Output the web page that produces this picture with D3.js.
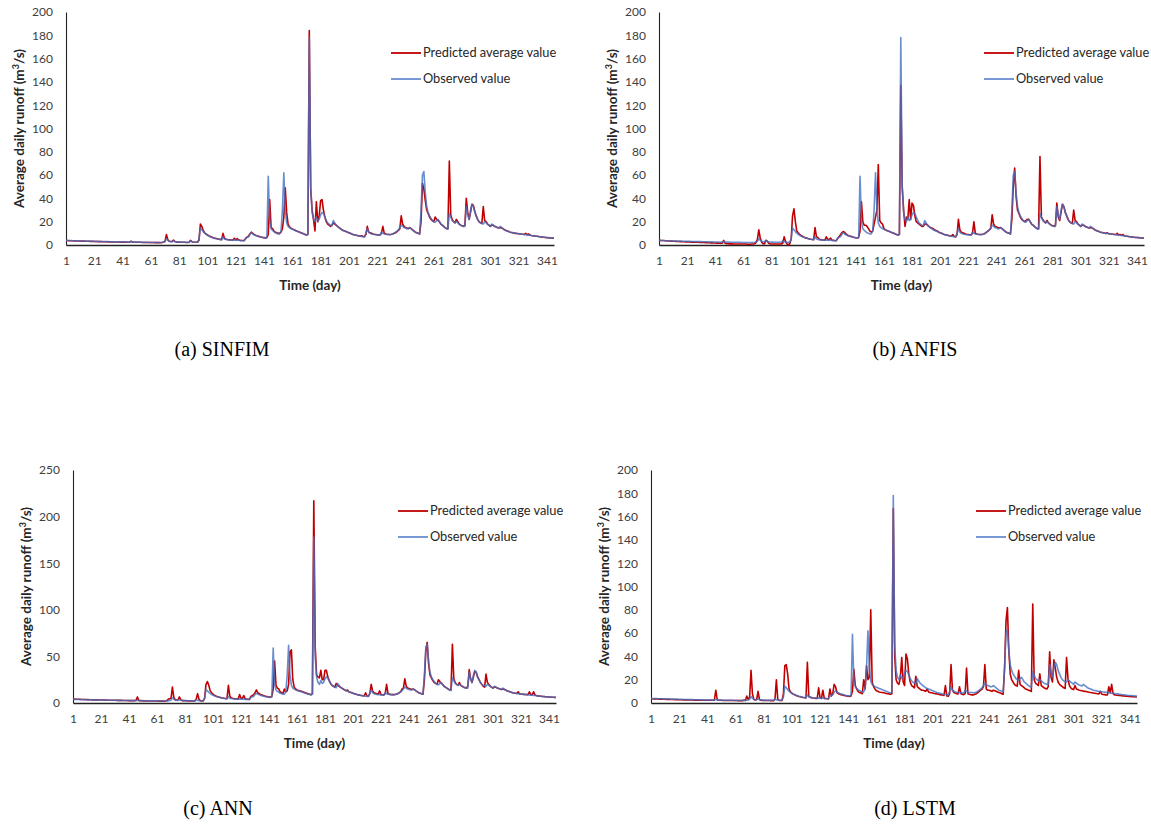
<!DOCTYPE html>
<html>
<head>
<meta charset="utf-8">
<script src="https://cdn.jsdelivr.net/npm/d3@7"></script>
<style>
  body { margin: 0; background: #fff; }
  svg text { font-family: Lato, "Open Sans", sans-serif; }
  .tick text { font-size: 12px; fill: #404040; }
  .axis-title { font-size: 13.5px; font-weight: bold; fill: #262626; }
  .legend text { font-size: 12.8px; fill: #262626; }
  .caption { font-family: "Liberation Serif", "Times New Roman", serif !important; font-size: 20px; fill: #000; }
</style>
</head>
<body>
<div id="content"></div>
<script>
// observed daily runoff (same in every panel), day 1..346
var observed = [
  4.0,3.9,3.9,3.8,3.8,3.7,3.7,3.6,3.6,3.5,
  3.5,3.4,3.4,3.4,3.3,3.3,3.3,3.2,3.2,3.2,
  3.1,3.1,3.1,3.0,3.0,3.0,3.0,2.9,2.9,2.9,
  2.9,2.8,2.8,2.8,2.8,2.7,2.7,2.7,2.7,2.6,
  2.6,2.6,2.6,2.6,2.5,2.6,3.0,2.6,2.5,2.5,
  2.5,2.4,2.4,2.4,2.4,2.3,2.3,2.3,2.3,2.2,
  2.2,2.2,2.2,2.2,2.2,2.1,2.1,2.1,2.3,2.6,
  3.2,5.5,4.0,3.2,2.9,2.8,3.6,3.0,2.7,2.6,
  2.5,2.5,2.4,2.4,2.4,2.3,2.3,2.3,3.5,2.8,
  2.5,2.4,2.4,2.4,5.0,14.5,13.0,11.5,10.2,9.2,
  8.4,7.7,7.1,6.6,6.2,5.8,5.5,5.2,4.9,4.7,
  4.5,7.0,5.2,4.8,4.6,4.4,4.3,4.2,4.1,4.4,
  4.1,4.0,4.3,3.9,3.8,3.7,3.7,6.0,6.5,7.0,
  9.0,10.5,9.5,8.8,8.2,7.8,7.4,7.0,6.7,6.4,
  6.2,6.0,6.5,59,20,14,12.5,11.5,10.5,10,
  9.5,9.5,12,30,62,30,19,16,15,14,
  13.5,13,12.5,12,11.5,11,10.5,10,9.5,9,
  8.5,9.5,178,50,28,22,20,24,21,22,
  26,28,27,24,21,19,18,17,16.5,21,
  19,17,16,15,14,13,12.5,12,11.5,11,
  10.5,10,9.5,9,8.7,8.4,8.1,7.8,7.5,7.3,
  7.1,7.0,10,14,11,10,9.5,9.2,9,8.8,
  8.7,8.5,8.5,11,10,9.5,9.2,9,9,8.8,
  9,9.5,10,11,12,13,15,17,16,15,
  14.5,14,14,15,14,13,12,11,10.5,10,
  9.5,30,60,63,45,33,28,25,23,21,
  20,19.5,21,22,20,18,17,16,15,14,
  13.5,27,24,21,20,19,20,19,18,17,
  16.5,16,16,33,26,22,30,35,33,28,
  25,22,20,19,18.5,18,20,19,18,17,
  16,18,17,16,15.5,15,14.5,16,15,14,
  13,12.5,12,11.5,11,10.8,10.5,10.2,10,9.8,
  9.6,9.4,9.3,9.2,9,8.8,8.5,8.6,8.4,8.2,
  8,7.8,7.6,7.5,7.3,7.1,7,6.8,6.7,6.5,
  6.4,6.3,6.2,6.1,6,5.9
];

var predSINFIM = [
  3.8,3.8,3.7,3.7,3.6,3.6,3.5,3.5,3.4,3.4,
  3.4,3.3,3.3,3.3,3.2,3.2,3.2,3.1,3.1,3.1,
  3.0,3.0,3.0,2.9,2.9,2.9,2.8,2.8,2.8,2.8,
  2.7,2.7,2.7,2.7,2.6,2.6,2.6,2.6,2.5,2.5,
  2.5,2.5,2.5,2.4,2.4,2.4,3.2,2.5,2.4,2.4,
  2.3,2.3,2.3,2.3,2.2,2.2,2.2,2.2,2.1,2.1,
  2.1,2.1,2.1,2.0,2.0,2.0,2.0,2.0,2.2,2.5,
  3.0,9.0,4.5,3.2,3.0,3.0,4.2,3.0,2.6,2.5,
  2.4,2.4,2.3,2.3,2.3,2.2,2.2,2.3,4.0,2.9,
  2.4,2.3,2.3,2.3,4.0,18,16,12.5,10.5,9.5,
  8.6,7.9,7.3,6.8,6.3,5.9,5.6,5.3,5.0,4.8,
  4.6,10,5.8,5.0,4.7,4.5,4.4,4.3,4.2,5.8,
  4.3,5.5,4.4,4.0,3.9,3.8,3.8,5.5,6.8,7.5,
  9.5,11,10,9.0,8.4,7.9,7.5,7.1,6.8,6.5,
  6.3,6.1,6.3,9,39,15,14,12,11,10.5,
  10,10,11,14,24,49,28,18,15.5,14.5,
  13.8,13.2,12.6,12,11.6,11.1,10.6,10.1,9.6,9.1,
  8.6,9,184,48,30,22,12,37,20,25,
  38,39,30,24,20,18,17,16,17,19,
  18,17,16,15,14,13,12.5,12,11.5,11,
  10.5,10,9.5,9,8.7,8.4,8.1,7.8,7.5,8,
  7.3,7.2,9,16,11,10.5,10,9.5,9.2,9,
  8.8,8.6,8.6,10,16,10,9.5,9.2,9,9,
  9.2,9.5,10,10.5,11.5,12.5,14,25,18,16,
  15,14.5,14,15,14,13,12,11,10.5,10,
  9.5,20,53,48,38,30,27,24,22,21,
  20,24,22,21,20,18,17,16,15,14,
  14,72,26,22,20,19,22,20,18,17,
  16.5,16,17,40,28,22,28,35,34,29,
  25,22,20,19,18.5,33,21,20,18,17,
  16,17,17,16,15.5,15,14.5,15,14.5,14,
  13,12.5,12,11.5,11,10.8,10.5,10.2,10,9.8,
  9.6,9.4,9.2,9.2,9,10,9,9.5,8.5,8.2,
  8,7.8,7.6,7.5,7.3,7.1,7,6.8,6.7,6.5,
  6.3,6.2,6.1,6,5.9,5.8
];

var predANFIS = [
  4.2,4.0,3.9,3.8,3.7,3.6,3.5,3.4,3.4,3.3,
  3.2,3.2,3.1,3.0,3.0,2.9,2.9,2.8,2.8,2.7,
  2.7,2.6,2.6,2.5,2.5,2.4,2.4,2.3,2.3,2.2,
  2.2,2.1,2.1,2.0,2.0,1.9,1.9,1.8,1.8,1.7,
  1.7,1.6,1.6,1.5,1.5,1.6,4.0,1.5,1.2,1.1,
  1.0,1.0,1.0,0.9,0.9,0.9,0.9,0.8,0.8,0.8,
  0.8,0.8,0.8,0.7,0.7,0.7,0.8,0.8,1.0,2.0,
  5.0,13,6,2.5,1.2,1.0,4.0,3.5,1.5,1.0,
  0.9,0.9,0.8,0.8,0.8,0.8,0.8,0.9,1.5,7.0,
  3.0,1.0,0.2,1.0,5,25,31,20,12,10.5,
  9.2,8.2,7.5,6.8,6.3,5.9,5.5,5.2,4.9,4.7,
  4.5,15,7,6.5,5.0,4.6,4.4,4.3,4.2,7,
  5,4.5,6,4.2,4.0,3.8,3.7,5.5,7.0,8.5,
  10.5,11.5,11,9.5,8.5,8.0,7.6,7.2,6.8,6.5,
  6.2,6.0,6.5,12,37,20,17,17,16,14,
  12,11,12,18,24,30,69,21,19,18,
  14,13,12.5,12,11.5,11,10.5,10,9.5,9,
  8.5,9,137,50,30,16,24,22,39,22,
  36,34,25,20,19,18,17,16,16,18,
  18,17,16,15,14.5,14,13,12.5,12,11,
  10.5,10,9.5,9,8.7,8.4,8.1,7.8,7.5,9,
  7.3,7.0,9,22,13,11,10.5,10,9.5,9.2,
  9,8.8,8.6,10,20,10,9.5,9.2,9,9,
  9.2,9.5,10,11,12,13,14,26,18,16,
  15.5,15,14.5,15,14,13,12,11,10.5,10,
  9.5,22,50,66,42,30,27,24,22,21,
  20,21,22,22,20,18,17,16,15,14,
  14,76,24,22,20,19,21,19,18,17,
  16.5,16,17,36,24,21,28,35,33,28,
  25,22,20,19,18.5,30,21,20,18,17,
  16,17,17,16,15.5,15,14.5,15,14.5,14,
  13,12.5,12,11.5,11,10.8,10.5,10.2,10,10.5,
  9.6,9.4,9.3,9.2,9,9,10,8.6,9,8.2,
  9,8,7.6,7.5,7.3,7.1,7,6.8,6.7,6.5,
  6.4,6.3,6.2,6.1,6,5.9
];

var predANN = [
  4.3,4.2,4.1,4.0,4.0,3.9,3.8,3.8,3.7,3.7,
  3.6,3.6,3.5,3.5,3.4,3.4,3.4,3.3,3.3,3.2,
  3.2,3.2,3.1,3.1,3.1,3.0,3.0,3.0,2.9,2.9,
  2.9,2.9,2.8,2.8,2.8,2.8,2.7,2.7,2.7,2.7,
  2.6,2.6,2.6,2.6,2.6,2.8,6.5,2.8,2.5,2.4,
  2.3,2.3,2.3,2.2,2.2,2.2,2.2,2.1,2.1,2.1,
  2.1,2.0,2.0,2.0,2.0,2.0,2.2,2.5,4.0,4.5,
  5,17,6,3.5,3.0,3.5,6.5,3.5,2.6,2.5,
  2.4,2.4,2.3,2.3,2.3,2.2,2.2,2.3,4,10,
  4,2.5,2.3,2.3,5,20,23,19,13,11,
  9.5,8.4,7.6,7.0,6.5,6.1,5.7,5.4,5.1,4.9,
  4.7,19,7.5,5.5,5.0,4.7,4.5,4.4,4.3,9,
  5,5,8,4.5,4.2,4.0,3.9,7,8,9,
  11,14,11,10,9,8.5,8,7.5,7,6.8,
  6.5,6.3,7,15,45,19,16,15,12,11,
  10.5,15,12,13,20,55,57,25,17,15,
  14,13.5,13,12.5,12,11.5,11,10.5,10,9.5,
  9,10,217,60,30,28,27,35,25,25,
  35,35,28,24,21,19,18,17,21,19,
  18,17,16,15,14,13.5,14,12,11.5,11,
  10.5,10,9.5,9,8.7,8.4,8.1,7.8,7.5,11,
  7.5,7.2,10,20,13,11,10.5,10,9.5,13,
  9,8.8,8.6,10,20,10,9.5,9.2,9,9,
  9.2,9.5,10,11,12,15,16,26,18,16,
  15.5,15,14.5,15,14,13,12,11,10.5,10,
  9.5,25,55,65,42,30,27,24,22,21,
  20,25,23,21,20,18,17,16,15,14,
  14,63,26,22,20,19,22,19,18,17,
  16.5,16,18,36,26,22,28,34,33,28,
  25,22,20,18,17,31,22,20,18,17,
  16,17,17,16,15.5,15,14.5,15,14.5,14,
  13,12.5,12,11.5,11,10.8,10.5,10.2,12,9.8,
  9.6,9.4,9.3,9.2,9,9,12,9,9,12,
  8.5,8,7.6,7.5,7.3,7.1,7,6.8,6.7,6.5,
  6.4,6.3,6.2,6.1,6,5.9
];

var predLSTM = [
  3.6,3.6,3.5,3.5,3.4,3.4,3.3,3.3,3.3,3.2,
  3.2,3.1,3.1,3.1,3.0,3.0,3.0,2.9,2.9,2.9,
  2.8,2.8,2.8,2.7,2.7,2.7,2.7,2.6,2.6,2.6,
  2.6,2.5,2.5,2.5,2.5,2.4,2.4,2.4,2.4,2.3,
  2.3,2.3,2.3,2.3,2.3,2.5,11,3,2.3,2.3,
  2.3,2.2,2.2,2.2,2.2,2.2,2.1,2.1,2.1,2.1,
  2.1,2.1,2.0,2.0,2.0,2.0,2.5,2.2,6,3,
  5,28,8,3,2.5,3,10,3,2.3,2.2,
  2.2,2.1,2.1,2.1,2.1,2.0,2.0,2.0,3,20,
  3,2.2,2.1,2.1,8,32,33,25,12,9.5,
  8.4,7.6,7,6.5,6,5.6,5.3,5,4.7,4.5,
  4.3,35,6,5,4.6,4.3,4.1,4,3.9,13,
  4.5,4,11,4,3.8,3.6,3.5,12,6,8,
  16,14,9,8,7.5,7,6.8,6.5,6.2,6,
  5.8,5.6,6,10,29,15,12,10,9,8.5,
  8,20,12,32,20,22,80,18,14,12,
  10.5,10,9.5,9.2,9,8.8,8.5,8.2,8,7.8,
  7.5,8,167,40,20,17,16,22,39,18,
  15,42,38,25,18,15,14,13,23,14,
  13,12,11,11,10.5,10,12,9.5,9,8.8,
  8.5,8.2,8,7.8,7.5,7.2,7,6.8,6.5,15,
  6,5.8,8,33,11,9,8.5,8,7.8,14,
  8,7.5,7.2,8,30,8,7.5,7.2,7,7,
  7.5,8,9,10,11,12,14,33,12,11,
  11,10.5,10,11,10.5,10,9.5,9,8.5,8,
  7.5,30,70,82,45,25,20,18,16,15,
  14.5,28,16,15,14,13,12,11.5,11,10.5,
  10,85,20,17,16,15,25,15,14,13,
  12.5,12,14,44,22,18,37,30,22,18,
  16,15,14,13,12.5,39,21,15,13,12,
  11.5,15,12,11.5,11,10.8,10.5,10.2,10,9.8,
  9.5,9.2,9,8.8,8.6,8.4,8.2,8,7.8,10,
  7.5,7.3,7.2,7,6.9,14,9,16,8,7,
  6.8,6.6,6.5,6.4,6.2,6.1,6,5.9,5.8,5.7,
  5.6,5.5,5.4,5.3,5.2,5.1
];

var xTickLabels = [1,21,41,61,81,101,121,141,161,181,201,221,241,261,281,301,321,341];
var captions = ["(a) SINFIM", "(b) ANFIS", "(c) ANN", "(d) LSTM"];
var yMax = [200, 200, 250, 200];
var yStep = [20, 20, 50, 20];
var seriesNames = ["Predicted average value", "Observed value"];

var predicted = [predSINFIM, predANFIS, predANN, predLSTM];

// panel positions on the page
var layout = [
  { x0: 66,  x1: 554,  top: 12,  bot: 245, legX: 391, legY: 53,  capX: 222, capY: 356 },
  { x0: 659, x1: 1144, top: 12,  bot: 245, legX: 984, legY: 53,  capX: 915, capY: 356 },
  { x0: 73,  x1: 556,  top: 470, bot: 703, legX: 398, legY: 511, capX: 218, capY: 815 },
  { x0: 651, x1: 1137, top: 470, bot: 703, legX: 976, legY: 511, capX: 915, capY: 815 }
];

var redColor = "#C00000";
var blueColor = "#4472C4";

var svg = d3.select("#content").append("svg")
  .attr("width", 1151)
  .attr("height", 832);

layout.forEach(function (L, i) {
  var n = observed.length;
  var x = d3.scaleLinear().domain([1, n]).range([L.x0, L.x1]);
  var y = d3.scaleLinear().domain([0, yMax[i]]).range([L.bot, L.top]);
  var g = svg.append("g");

  // x axis
  var xAxis = d3.axisBottom(x).tickValues(xTickLabels).tickFormat(d3.format("d"))
    .tickSize(0).tickSizeOuter(0).tickPadding(11);
  var gx = g.append("g").attr("transform", "translate(0," + L.bot + ")").call(xAxis);
  gx.select(".domain").attr("stroke", "#222").attr("stroke-width", 1.4);

  // y axis
  var yAxis = d3.axisLeft(y).tickValues(d3.range(0, yMax[i] + 1, yStep[i]))
    .tickSize(0).tickSizeOuter(0).tickPadding(13);
  var gy = g.append("g").attr("transform", "translate(" + L.x0 + ",0)").call(yAxis);
  gy.select(".domain").attr("stroke", "#222").attr("stroke-width", 1.1);
  g.selectAll(".tick text").attr("font-family", null);

  var line = d3.line()
    .x(function (d, k) { return x(k + 1); })
    .y(function (d) { return y(d); });

  // predicted first, observed on top
  g.append("path").datum(predicted[i])
    .attr("d", line)
    .attr("fill", "none")
    .attr("stroke", redColor)
    .attr("stroke-width", 1.6)
    .attr("stroke-linejoin", "round");
  g.append("path").datum(observed)
    .attr("d", line)
    .attr("fill", "none")
    .attr("stroke", blueColor)
    .attr("stroke-opacity", 0.8)
    .attr("stroke-width", 1.6)
    .attr("stroke-linejoin", "round");

  // axis titles
  g.append("text")
    .attr("class", "axis-title")
    .attr("transform", "translate(" + (L.x0 - 47) + "," + ((L.top + L.bot) / 2) + ") rotate(-90)")
    .attr("text-anchor", "middle")
    .attr("dy", "0.35em")
    .html("Average daily runoff (m<tspan baseline-shift='super' font-size='9px'>3</tspan>/s)");
  g.append("text")
    .attr("class", "axis-title")
    .attr("x", (L.x0 + L.x1) / 2)
    .attr("y", L.bot + 40)
    .attr("text-anchor", "middle")
    .attr("dy", "0.35em")
    .text("Time (day)");

  // legend
  var leg = g.append("g").attr("class", "legend");
  [redColor, blueColor].forEach(function (c, k) {
    var ly = L.legY + k * 26;
    leg.append("line")
      .attr("x1", L.legX).attr("x2", L.legX + 30)
      .attr("y1", ly).attr("y2", ly)
      .attr("stroke", c)
      .attr("stroke-opacity", k ? 0.8 : 1)
      .attr("stroke-width", 1.8);
    leg.append("text")
      .attr("x", L.legX + 32)
      .attr("y", ly)
      .attr("dy", "0.35em")
      .text(seriesNames[k]);
  });

  // caption below panel
  svg.append("text")
    .attr("class", "caption")
    .attr("x", L.capX)
    .attr("y", L.capY)
    .attr("text-anchor", "middle")
    .text(captions[i]);
});
</script>
</body>
</html>
